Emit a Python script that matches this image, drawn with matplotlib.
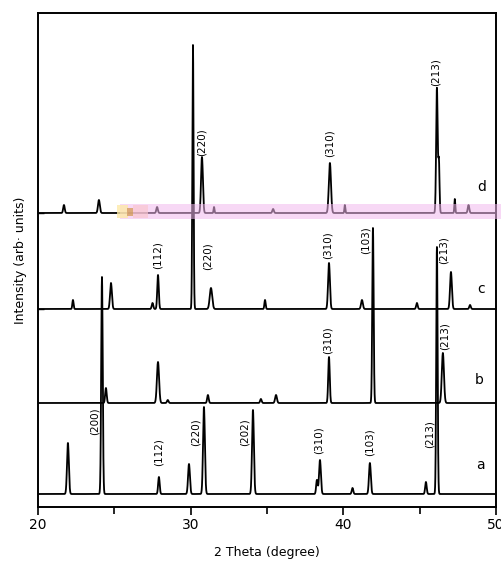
import numpy as np
import matplotlib
matplotlib.use("Agg")
import matplotlib.pyplot as plt
from matplotlib.patches import Rectangle

# ---- data (2theta in degrees, intensity arb.) ----
baseline = {"a": 13, "b": 104, "c": 198, "d": 294}

a_pos = [21.96, 24.19, 27.92, 29.89, 30.87, 34.08, 38.27, 38.47, 40.6, 41.74, 45.41, 46.13]
a_hgt = [51, 217, 17, 30, 87, 84, 14, 34, 6, 31, 12, 247]
a_wid = [0.06, 0.05, 0.05, 0.06, 0.06, 0.06, 0.05, 0.06, 0.05, 0.06, 0.05, 0.045]

b_pos = [24.45, 27.86, 31.13, 35.59, 39.06, 41.94, 46.52, 34.6, 28.5]
b_hgt = [15, 41, 8, 8, 46, 175, 50, 4, 3]
b_wid = [0.05, 0.07, 0.05, 0.06, 0.05, 0.045, 0.07, 0.05, 0.05]

c_pos = [22.29, 24.78, 27.5, 27.86, 30.15, 31.33, 34.87, 39.06, 41.22, 44.82, 47.05, 48.3]
c_hgt = [9, 26, 6, 34, 264, 21, 9, 46, 9, 6, 37, 4]
c_wid = [0.04, 0.06, 0.05, 0.05, 0.04, 0.08, 0.04, 0.06, 0.06, 0.05, 0.06, 0.05]

d_pos = [21.70, 23.99, 27.8, 30.74, 31.53, 35.4, 39.12, 40.1, 46.13, 46.26, 47.3, 48.2]
d_hgt = [8, 13, 6, 56, 6, 4, 50, 8, 125, 51, 14, 8]
d_wid = [0.05, 0.06, 0.05, 0.06, 0.03, 0.05, 0.07, 0.03, 0.05, 0.04, 0.03, 0.05]

patterns = {"a": (a_pos, a_hgt, a_wid), "b": (b_pos, b_hgt, b_wid),
            "c": (c_pos, c_hgt, c_wid), "d": (d_pos, d_hgt, d_wid)}

# hkl labels: (pattern, text, 2theta, intensity)
hkl = [
    ("d", "(220)", 30.74, 365), ("d", "(310)", 39.12, 364), ("d", "(213)", 46.06, 435),
    ("c", "(112)", 27.86, 252), ("c", "(220)", 31.13, 251), ("c", "(310)", 38.99, 262),
    ("c", "(103)", 41.48, 267), ("c", "(213)", 46.59, 257),
    ("b", "(310)", 38.99, 167), ("b", "(213)", 46.65, 171),
    ("a", "(200)", 23.73, 86), ("a", "(112)", 27.92, 55), ("a", "(220)", 30.35, 75),
    ("a", "(202)", 33.56, 75), ("a", "(310)", 38.40, 67), ("a", "(103)", 41.74, 65),
    ("a", "(213)", 45.67, 73),
]
trace_tags = [("d", 49.08, 320), ("c", 49.01, 218), ("b", 48.88, 127), ("a", 49.01, 42)]

plt.rcParams["font.family"] = ["DejaVu Sans"]

fig = plt.figure(figsize=(5.01, 5.61), dpi=100)
ax = fig.add_axes([38 / 501, 1 - 507 / 561, 458 / 501, 494 / 561])

tt = np.linspace(20, 50, 6001)
for name, (pos, hgt, wid) in patterns.items():
    y = np.full_like(tt, baseline[name], dtype=float)
    for p, h, w in zip(pos, hgt, wid):
        y += h * np.exp(-0.5 * ((tt - p) / w) ** 2)
    ax.plot(tt, y, color="black", lw=1.3, zorder=2)

# scan artefact: coloured band across trace d
ax.add_patch(Rectangle((25.37, 288), 50.32 - 25.37, 15, facecolor="#f2b8ee",
                       edgecolor="none", alpha=0.55, zorder=3, clip_on=False))
ax.add_patch(Rectangle((25.2, 289), 0.7, 13, facecolor="#fde9a8",
                       edgecolor="none", alpha=0.8, zorder=3))
ax.add_patch(Rectangle((25.85, 291), 0.35, 8, facecolor="#d9a46e",
                       edgecolor="none", alpha=0.9, zorder=3))
ax.add_patch(Rectangle((26.2, 289), 1.0, 13, facecolor="#f9c6cf",
                       edgecolor="none", alpha=0.7, zorder=3))

for name, txt, x, yv in hkl:
    ax.text(x, yv, txt, rotation=90, ha="center", va="center", fontsize=7.5)
for txt, x, yv in trace_tags:
    ax.text(x, yv, txt, ha="center", va="center", fontsize=10)

ax.set_xlim(20, 50)
ax.set_ylim(0, 494)
ax.set_xticks([20, 30, 40, 50])
ax.set_xticks([25, 35, 45], minor=True)
ax.tick_params(axis="x", which="major", direction="out", length=6, width=1.2,
               labelsize=10, pad=2)
ax.tick_params(axis="x", which="minor", direction="out", length=5, width=1.2)
ax.set_yticks([baseline["c"], baseline["d"]])
ax.tick_params(axis="y", direction="in", length=4, width=1, labelleft=False)
for s in ax.spines.values():
    s.set_linewidth(1.4)

ax.set_xlabel("2 Theta (degree)", fontsize=9, labelpad=10)
ax.set_ylabel("Intensity (arb· units)", fontsize=9, labelpad=8)

fig.savefig("out.png", dpi=100)
